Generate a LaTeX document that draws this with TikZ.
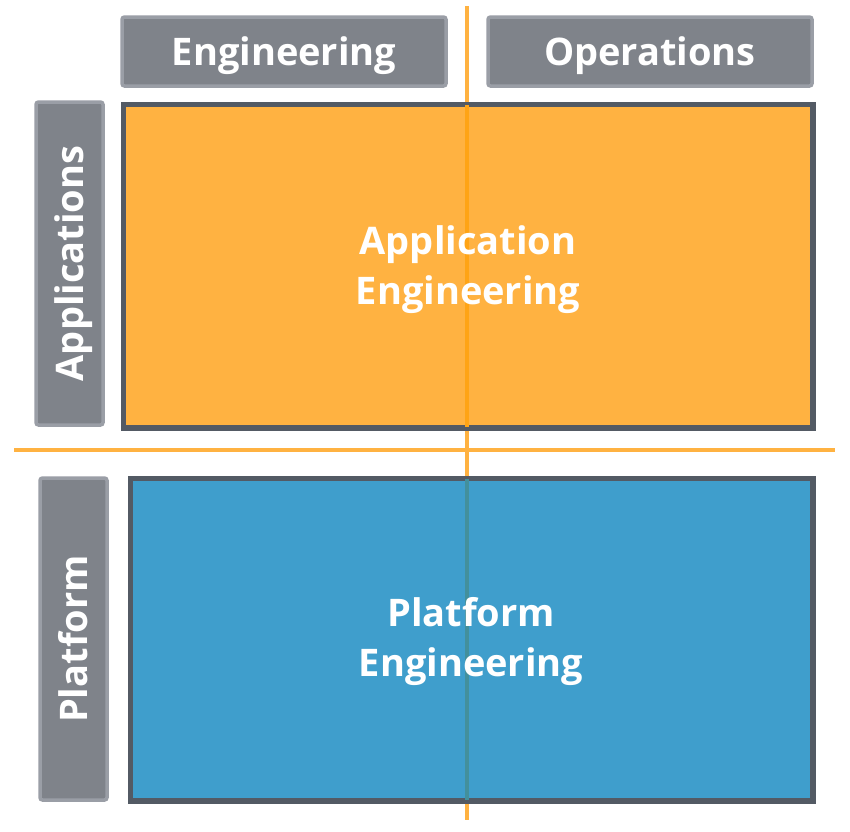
\documentclass[tikz,border=0pt]{standalone}
\usepackage{fontspec}
\setmainfont{Open Sans}
\usepackage{tikz}
\usetikzlibrary{positioning}
\definecolor{MXCanvas}{HTML}{FFFFFF}
\definecolor{MXTag}{HTML}{7F838A}
\definecolor{MXTagEdge}{HTML}{9A9EA6}
\definecolor{MXEdge}{HTML}{535A64}
\definecolor{MXAmber}{HTML}{FFB241}
\definecolor{MXAmberDeep}{HTML}{FFA415}
\definecolor{MXBlue}{HTML}{3F9ECC}
\definecolor{MXTeal}{HTML}{43909C}
\tikzset{
  tag/.style={draw=MXTagEdge,line width=3.5pt,fill=MXTag,rounded corners=2.5pt,
              text=white,font=\fontsize{38}{46}\selectfont\bfseries,
              inner sep=0pt,align=center},
  area/.style={draw=MXEdge,line width=3.5pt,text=white,inner sep=0pt,
               font=\fontsize{38}{50}\selectfont\bfseries,align=center},
  areaamber/.style={area,fill=MXAmber},
  areablue/.style={area,fill=MXBlue},
  divider/.style={MXAmber,line width=4pt},
}
\begin{document}
\begin{tikzpicture}[x=1pt,y=-1pt]
    \useasboundingbox[fill=MXCanvas] (0,0) rectangle (850,831);

    % axis dividers
    \coordinate (vtop) at (467,6);
    \coordinate (vbot) at (467,820);
    \coordinate (hleft) at (14,450);
    \coordinate (hright) at (835,450);
    \draw[divider] (vtop)--(vbot);
    \draw[divider] (hleft)--(hright);

    % column and row tags
    \node[tag,minimum width=324,minimum height=69] (eng) at (284,51.5) {};
    \node[tag,minimum width=324,minimum height=69] (ops) at (650,51.5) {};
    \node[tag,rotate=90,minimum width=323,minimum height=67] (apps) at (69.5,263.5) {};
    \node[tag,rotate=90,minimum width=322,minimum height=67] (plat) at (73.5,639) {};
    \node[tag,draw=none,fill=none,anchor=base] at ([yshift=-14]eng.center) {Engineering};
    \node[tag,draw=none,fill=none,anchor=base] at ([yshift=-14]ops.center) {Operations};
    \node[tag,draw=none,fill=none,anchor=base,rotate=90] at ([xshift=14]apps.center) {Applications};
    \node[tag,draw=none,fill=none,anchor=base,rotate=90] at ([xshift=14]plat.center) {Platform};

    % quadrants
    \node[areaamber,minimum width=688,minimum height=322] (appeng) at (468,266) {};
    \node[areablue,minimum width=681,minimum height=321] (plateng) at (471.5,639.5) {};
    \draw[MXAmberDeep,line width=4pt] (appeng.north -| vtop)--(appeng.south -| vtop);
    \draw[MXTeal,line width=4pt] (plateng.north -| vtop)--(plateng.south -| vtop);
    \node[area,draw=none] at (468,270) {Application\\Engineering};
    \node[area,draw=none] at (471,642) {Platform\\Engineering};
    \draw[draw=MXEdge,line width=3.5pt] (appeng.north west) rectangle (appeng.south east);
    \draw[draw=MXEdge,line width=3.5pt] (plateng.north west) rectangle (plateng.south east);
  \end{tikzpicture}
\end{document}
